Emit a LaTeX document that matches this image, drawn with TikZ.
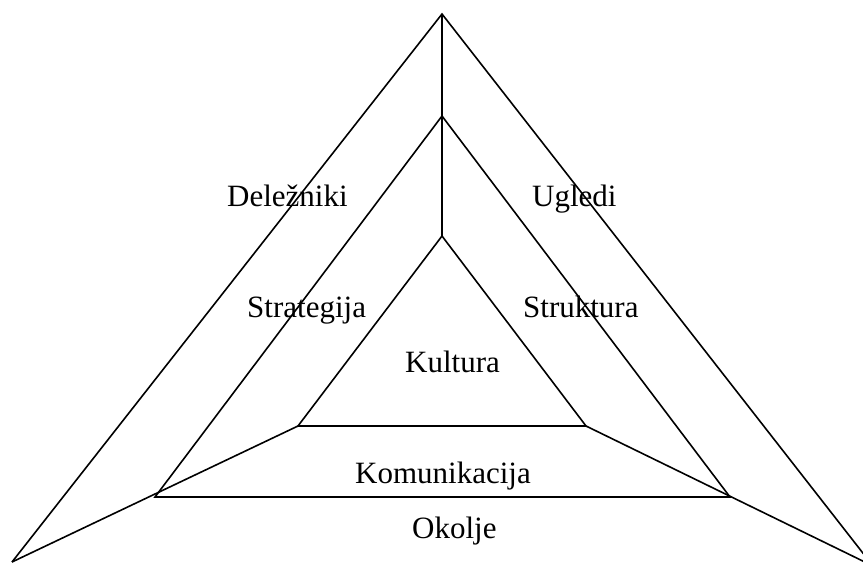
\documentclass[tikz,border=0pt]{standalone}
\usepackage{fontspec}
\setmainfont{Liberation Serif}
\begin{document}
\begin{tikzpicture}[x=1pt,y=-1pt,
  edge/.style={line width=1.6pt,line join=miter},
  lbl/.style={anchor=base west,inner sep=0pt,font=\fontsize{31}{37}\selectfont}]
\useasboundingbox (0,0) rectangle (863,563);
\clip (0,0) rectangle (863,563);
% outer corners
\coordinate (oa) at (442,14);
\coordinate (ol) at (12,562);
\coordinate (or) at (873,566);
% middle
\coordinate (ma) at (442,116);
\coordinate (ml) at (155,497);
\coordinate (mr) at (730,497);
% inner
\coordinate (ia) at (442,236);
\coordinate (il) at (298,426);
\coordinate (ir) at (586,426);
\draw[edge] (ol) -- (oa) -- (or);
\draw[edge] (ml) -- (ma) -- (mr) -- cycle;
\draw[edge] (il) -- (ia) -- (ir) -- cycle;
\draw[edge] (oa) -- (ia);
\draw[edge] (ol) -- (il);
\draw[edge] (or) -- (ir);
\node[lbl] (d) at (227,206) {Deležniki};
\node[lbl] (u) at (532,206) {Ugledi};
\node[lbl] (s) at (247,317) {Strategija};
\node[lbl] (st) at (523,317) {Struktura};
\node[lbl] (k) at (405,372) {Kultura};
\node[lbl] (km) at (355,483) {Komunikacija};
\node[lbl] (o) at (412,538) {Okolje};
\end{tikzpicture}
\end{document}
